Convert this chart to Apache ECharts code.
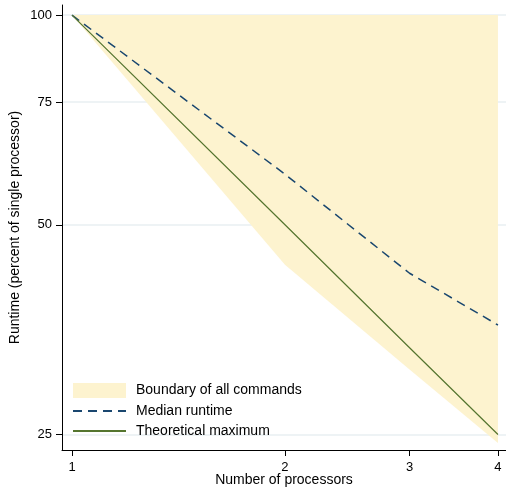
<!DOCTYPE html>
<html><head><meta charset="utf-8">
<script src="https://cdn.jsdelivr.net/npm/echarts@6/dist/echarts.min.js"></script>
<style>html,body{margin:0;padding:0;background:#fff}#c{width:506px;height:489px}</style>
</head><body><div id="c"></div>
<script>
const processors = [1, 2, 3, 4];
const boundaryLower = [100, 43.8, 31.0, 24.3];
const boundaryUpper = [100, 100, 100, 100];
const medianRuntime = [100, 59.1, 42.6, 35.9];
const theoreticalMax = [100, 50, 33.3, 25];
const xTicks = [1, 2, 3, 4];
const yTicks = [25, 50, 75, 100];

const FONT = '"Liberation Sans", Arial, sans-serif';
const AREA = '#fdf3cf';
const pairs = (ys) => processors.map((x, i) => [x, ys[i]]);
const bandData = processors.map((x, i) => [x, boundaryLower[i], boundaryUpper[i]]);

const chart = echarts.init(document.getElementById('c'), null, {renderer: 'canvas'});
chart.setOption({
  animation: false,
  backgroundColor: '#fff',
  textStyle: {fontFamily: FONT},
  grid: {left: 62, right: 0, top: 5, bottom: 39, containLabel: false, outerBoundsMode: 'none'},
  legend: {
    orient: 'vertical', left: 72, top: 383, padding: 0,
    itemWidth: 53, itemHeight: 15, itemGap: 6,
    selectedMode: false,
    textStyle: {fontSize: 14, color: '#000', fontFamily: FONT, padding: [0, 0, 0, 5]},
    data: [
      {name: 'Boundary of all commands', icon: 'rect', itemStyle: {color: AREA}},
      {name: 'Median runtime', itemStyle: {opacity: 0}},
      {name: 'Theoretical maximum', itemStyle: {opacity: 0}}
    ]
  },
  xAxis: {
    type: 'log', logBase: 2, min: 0.968, max: 4.106,
    axisLine: {show: true, onZero: false, lineStyle: {color: '#000', width: 1}},
    axisTick: {show: true, customValues: xTicks, length: 6, lineStyle: {color: '#000'}},
    axisLabel: {customValues: xTicks, fontSize: 13, color: '#000', margin: 11, fontFamily: FONT},
    splitLine: {show: false},
    minorTick: {show: false},
    name: 'Number of processors', nameLocation: 'middle', nameGap: 23, nameMoveOverlap: false,
    nameTextStyle: {fontSize: 14, color: '#000', fontFamily: FONT}
  },
  yAxis: {
    type: 'log', logBase: 2, min: 23.75, max: 103.4,
    axisLine: {show: true, onZero: false, lineStyle: {color: '#000', width: 1}},
    axisTick: {show: true, customValues: yTicks, length: 6, lineStyle: {color: '#000'}},
    axisLabel: {customValues: yTicks, fontSize: 13, color: '#000', margin: 10, fontFamily: FONT},
    splitLine: {show: true, lineStyle: {color: '#e8eff2', width: 1.5}},
    minorTick: {show: false},
    name: 'Runtime (percent of single processor)', nameLocation: 'middle', nameGap: 40, nameMoveOverlap: false,
    nameTextStyle: {fontSize: 14, color: '#000', fontFamily: FONT}
  },
  series: [
    {
      name: 'Boundary of all commands', type: 'custom', data: bandData,
      encode: {x: 0, y: [1, 2]},
      itemStyle: {color: AREA}, silent: true, z: 1,
      renderItem: function (params, api) {
        if (params.dataIndex !== 0) return null;
        const pts = [];
        for (let i = 0; i < processors.length; i++) pts.push(api.coord([processors[i], boundaryUpper[i]]));
        for (let i = processors.length - 1; i >= 0; i--) pts.push(api.coord([processors[i], boundaryLower[i]]));
        return {type: 'polygon', shape: {points: pts}, style: {fill: AREA}};
      }
    },
    {
      name: 'Median runtime', type: 'line', data: pairs(medianRuntime),
      symbol: 'none', color: '#1a476f',
      lineStyle: {color: '#1a476f', width: 1.5, type: [9, 6]}, z: 3
    },
    {
      name: 'Theoretical maximum', type: 'line', data: pairs(theoreticalMax),
      symbol: 'none', color: '#55752f',
      lineStyle: {color: '#55752f', width: 1.2}, z: 3
    }
  ]
});
</script></body></html>
